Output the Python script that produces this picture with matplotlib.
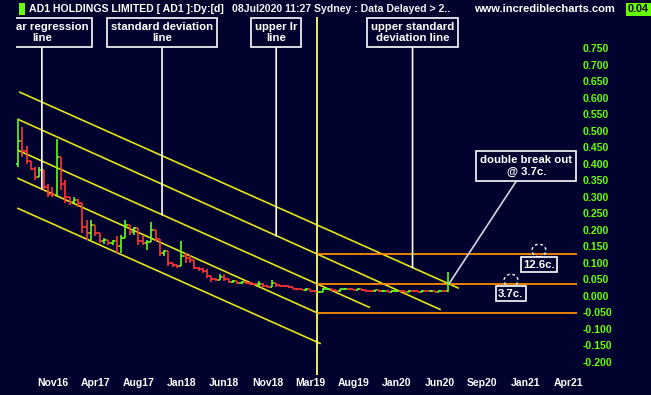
import matplotlib
matplotlib.use('Agg')
import matplotlib.pyplot as plt
from matplotlib.patches import Ellipse, Rectangle
from matplotlib.transforms import Bbox, TransformedBbox, IdentityTransform
import numpy as np

plt.rcParams['font.family'] = ['Liberation Sans', 'DejaVu Sans']
plt.rcParams['font.weight'] = 'bold'

# ---------------- data (weekly index, bar every 2 weeks) ----------------
first_open = 0.400
highs = [0.536, 0.512, 0.455, 0.405, 0.390, 0.390, 0.380, 0.340, 0.330, 0.475,
         0.420, 0.350, 0.300, 0.300, 0.295, 0.255, 0.230, 0.230, 0.210, 0.180,
         0.175, 0.170, 0.170, 0.180, 0.185, 0.230, 0.215, 0.210, 0.190, 0.185,
         0.170, 0.225, 0.200, 0.150, 0.140, 0.110, 0.100, 0.095, 0.167, 0.130,
         0.125, 0.095, 0.088, 0.085, 0.080, 0.060, 0.055, 0.065, 0.065, 0.050,
         0.048, 0.045, 0.045, 0.045, 0.042, 0.040, 0.046, 0.038, 0.033, 0.048,
         0.040, 0.034, 0.033, 0.030, 0.027, 0.024, 0.022, 0.024, 0.021, 0.018,
         0.016, 0.025, 0.025, 0.022, 0.019, 0.022, 0.024, 0.025, 0.022, 0.024,
         0.022, 0.019, 0.018, 0.019, 0.018, 0.018, 0.017, 0.017, 0.018, 0.017,
         0.016, 0.017, 0.017, 0.016, 0.017, 0.016, 0.017, 0.016, 0.017, 0.016,
         0.073]
lows = [0.390, 0.420, 0.400, 0.380, 0.350, 0.360, 0.320, 0.300, 0.300, 0.310,
        0.320, 0.280, 0.275, 0.280, 0.270, 0.190, 0.170, 0.170, 0.180, 0.160,
        0.158, 0.155, 0.155, 0.130, 0.130, 0.200, 0.185, 0.185, 0.155, 0.155,
        0.140, 0.175, 0.165, 0.120, 0.120, 0.090, 0.088, 0.085, 0.090, 0.100,
        0.100, 0.080, 0.076, 0.070, 0.055, 0.042, 0.044, 0.048, 0.045, 0.040,
        0.040, 0.037, 0.036, 0.035, 0.033, 0.032, 0.030, 0.028, 0.026, 0.030,
        0.028, 0.028, 0.027, 0.024, 0.020, 0.018, 0.017, 0.016, 0.014, 0.011,
        0.010, 0.014, 0.018, 0.016, 0.012, 0.013, 0.018, 0.018, 0.017, 0.017,
        0.016, 0.013, 0.012, 0.013, 0.012, 0.012, 0.011, 0.012, 0.013, 0.012,
        0.011, 0.012, 0.012, 0.011, 0.012, 0.011, 0.012, 0.011, 0.012, 0.011,
        0.012]
closes = [0.470, 0.440, 0.410, 0.385, 0.360, 0.380, 0.330, 0.310, 0.305, 0.420,
          0.340, 0.300, 0.285, 0.290, 0.280, 0.210, 0.190, 0.215, 0.190, 0.165,
          0.168, 0.160, 0.166, 0.150, 0.175, 0.215, 0.195, 0.205, 0.165, 0.160,
          0.162, 0.200, 0.172, 0.130, 0.135, 0.100, 0.095, 0.090, 0.120, 0.115,
          0.110, 0.085, 0.080, 0.075, 0.060, 0.050, 0.048, 0.058, 0.052, 0.043,
          0.044, 0.040, 0.041, 0.039, 0.036, 0.035, 0.037, 0.030, 0.028, 0.040,
          0.032, 0.031, 0.030, 0.026, 0.022, 0.020, 0.018, 0.021, 0.016, 0.012,
          0.013, 0.022, 0.022, 0.018, 0.014, 0.020, 0.022, 0.021, 0.019, 0.022,
          0.019, 0.016, 0.015, 0.017, 0.014, 0.016, 0.013, 0.015, 0.016, 0.014,
          0.013, 0.015, 0.014, 0.013, 0.015, 0.014, 0.015, 0.013, 0.015, 0.014,
          0.037]
bar_weeks = np.arange(len(closes)) * 2

# channel lines (start week, end week, start value, end value)
chan_start_w = [0.9, 0.0, 0.0, 0.0, 0.0]
chan_end_w = [204.7, 196.3, 163.4, 139.7, 140.5]
chan_start_v = [0.617, 0.535, 0.441, 0.356, 0.265]
chan_end_v = [0.024, -0.041, -0.0345, -0.053, -0.144]

marker_week = 138.9                      # vertical marker line
level_values = [0.126, 0.037, -0.053]    # horizontal levels

tick_weeks = [16, 36, 56, 76, 96, 116, 136, 156, 176, 196, 216, 236, 256]
tick_labels = ['Nov16', 'Apr17', 'Aug17', 'Jan18', 'Jun18', 'Nov18', 'Mar19',
               'Aug19', 'Jan20', 'Jun20', 'Sep20', 'Jan21', 'Apr21']
price_ticks = [round(-0.2 + 0.05 * i, 3) for i in range(20)]

# ---------------- styling ----------------
BG = '#02022e'
GREEN = '#5cff1f'
RED = '#ff3535'
YEL = '#e3e31c'
ORANGE = '#ff8a00'
LIME = '#66ff00'

W, H = 651, 395
fig = plt.figure(figsize=(W / 100, H / 100), dpi=100, facecolor=BG)
ax = fig.add_axes([0, 1 - 375 / H, 577 / W, (375 - 17) / H])
ax.set_facecolor(BG)
ax.set_xlim(-8.37, 260)
ax.set_ylim(-0.2397, 0.845)
for s in ax.spines.values():
    s.set_visible(False)

# price bars
prev = first_open
for x, hi, lo, cl in zip(bar_weeks, highs, lows, closes):
    op = prev
    col = GREEN if cl >= op else RED
    top = max(hi, op, cl)
    bot = min(lo, op, cl)
    ax.plot([x, x], [bot, top], color=col, lw=1.2, solid_capstyle='butt', zorder=3)
    ax.plot([x - 1.0, x], [op, op], color=col, lw=1.2, solid_capstyle='butt', zorder=3)
    ax.plot([x, x + 1.0], [cl, cl], color=col, lw=1.2, solid_capstyle='butt', zorder=3)
    prev = cl

# channel lines
for sw, ew, sv, ev in zip(chan_start_w, chan_end_w, chan_start_v, chan_end_v):
    ax.plot([sw, ew], [sv, ev], color=YEL, lw=1.2, zorder=2)

ax.axvline(marker_week, color='#ffff70', lw=1.3, zorder=2)
ax.hlines(level_values, marker_week, 260, color=ORANGE, lw=1.3, zorder=2)

# axes ticks
ax.yaxis.tick_right()
ax.set_yticks(price_ticks)
ax.set_yticklabels([f'{v:.3f}' for v in price_ticks])
ax.tick_params(axis='y', length=0, pad=4, labelcolor=LIME, labelsize=7.6)
ax.set_xticks(tick_weeks)
ax.set_xticklabels(tick_labels)
ax.tick_params(axis='x', length=0, pad=2.5, labelcolor='white', labelsize=7.5)
for lab in ax.get_xticklabels() + ax.get_yticklabels():
    lab.set_fontweight('bold')

# chart drawing region begins a little right of the figure edge
clip_region = TransformedBbox(Bbox([[16, 0], [W, H]]), IdentityTransform())

# annotations
def callout(text, cx, cy, tx=None, ty=None, pad=0.35, lcol='white'):
    kw = dict(ha='center', va='center', color='white', fontsize=8.2,
              fontweight='bold', annotation_clip=False, zorder=6,
              bbox=dict(boxstyle=f'square,pad={pad}', fc=BG, ec='white', lw=1.2))
    if tx is None:
        a = ax.annotate(text, xy=(cx, cy), **kw)
    else:
        a = ax.annotate(text, xy=(tx, ty), xytext=(cx, cy),
                        arrowprops=dict(arrowstyle='-', color=lcol, lw=1.2,
                                        shrinkA=0, shrinkB=0), **kw)
    a.set_clip_on(True)
    a.set_clip_box(clip_region)
    return a

callout('linear regression\nline', 11.1, 0.798, 11.1, 0.324)
callout('standard deviation\nline', 67.0, 0.798, 67.0, 0.246)
callout('upper lr\nline', 120.1, 0.798, 120.1, 0.182)
callout('upper standard\ndeviation line', 183.5, 0.798, 183.5, 0.086)
callout('double break out\n@ 3.7c.', 236.4, 0.394, 200.6, 0.038, lcol='#d4d4e8')

for ex, ey in [(242.3, 0.1376), (229.3, 0.0467)]:
    ax.add_patch(Ellipse((ex, ey), 6.5, 0.038, fill=False, ec='white', lw=1.0,
                         ls=(0, (2, 2)), zorder=5))
callout('12.6c.', 242.2, 0.0945, pad=0.2)
callout('3.7c.', 229.2, 0.0064, pad=0.2)

# header
def fx(px):
    return px / W

def fy(py):
    return 1 - py / H

fig.patches.append(Rectangle((fx(19), fy(15)), 6.5 / W, 11.5 / H,
                             transform=fig.transFigure, fc=LIME, ec='none'))
fig.text(fx(29.3), fy(8.7), 'AD1 HOLDINGS LIMITED [ AD1 ]:Dy:[d]', color='white',
         fontsize=7.6, fontweight='bold', ha='left', va='center')
fig.text(fx(232.3), fy(8.7), '08Jul2020 11:27 Sydney : Data Delayed > 2..',
         color='#f0f0f0', fontsize=7.6, fontweight='bold', ha='left', va='center')
fig.text(fx(474), fy(8.7), 'www.incrediblecharts.com', color='white',
         fontsize=8.0, fontweight='bold', ha='left', va='center')
fig.patches.append(Rectangle((fx(626), fy(16)), 25 / W, 13.3 / H,
                             transform=fig.transFigure, fc=LIME, ec='none'))
fig.text(fx(628), fy(9.3), '0.04', color='black', fontsize=7.8,
         fontweight='bold', ha='left', va='center')

fig.savefig('out.png', dpi=100, facecolor=BG)
